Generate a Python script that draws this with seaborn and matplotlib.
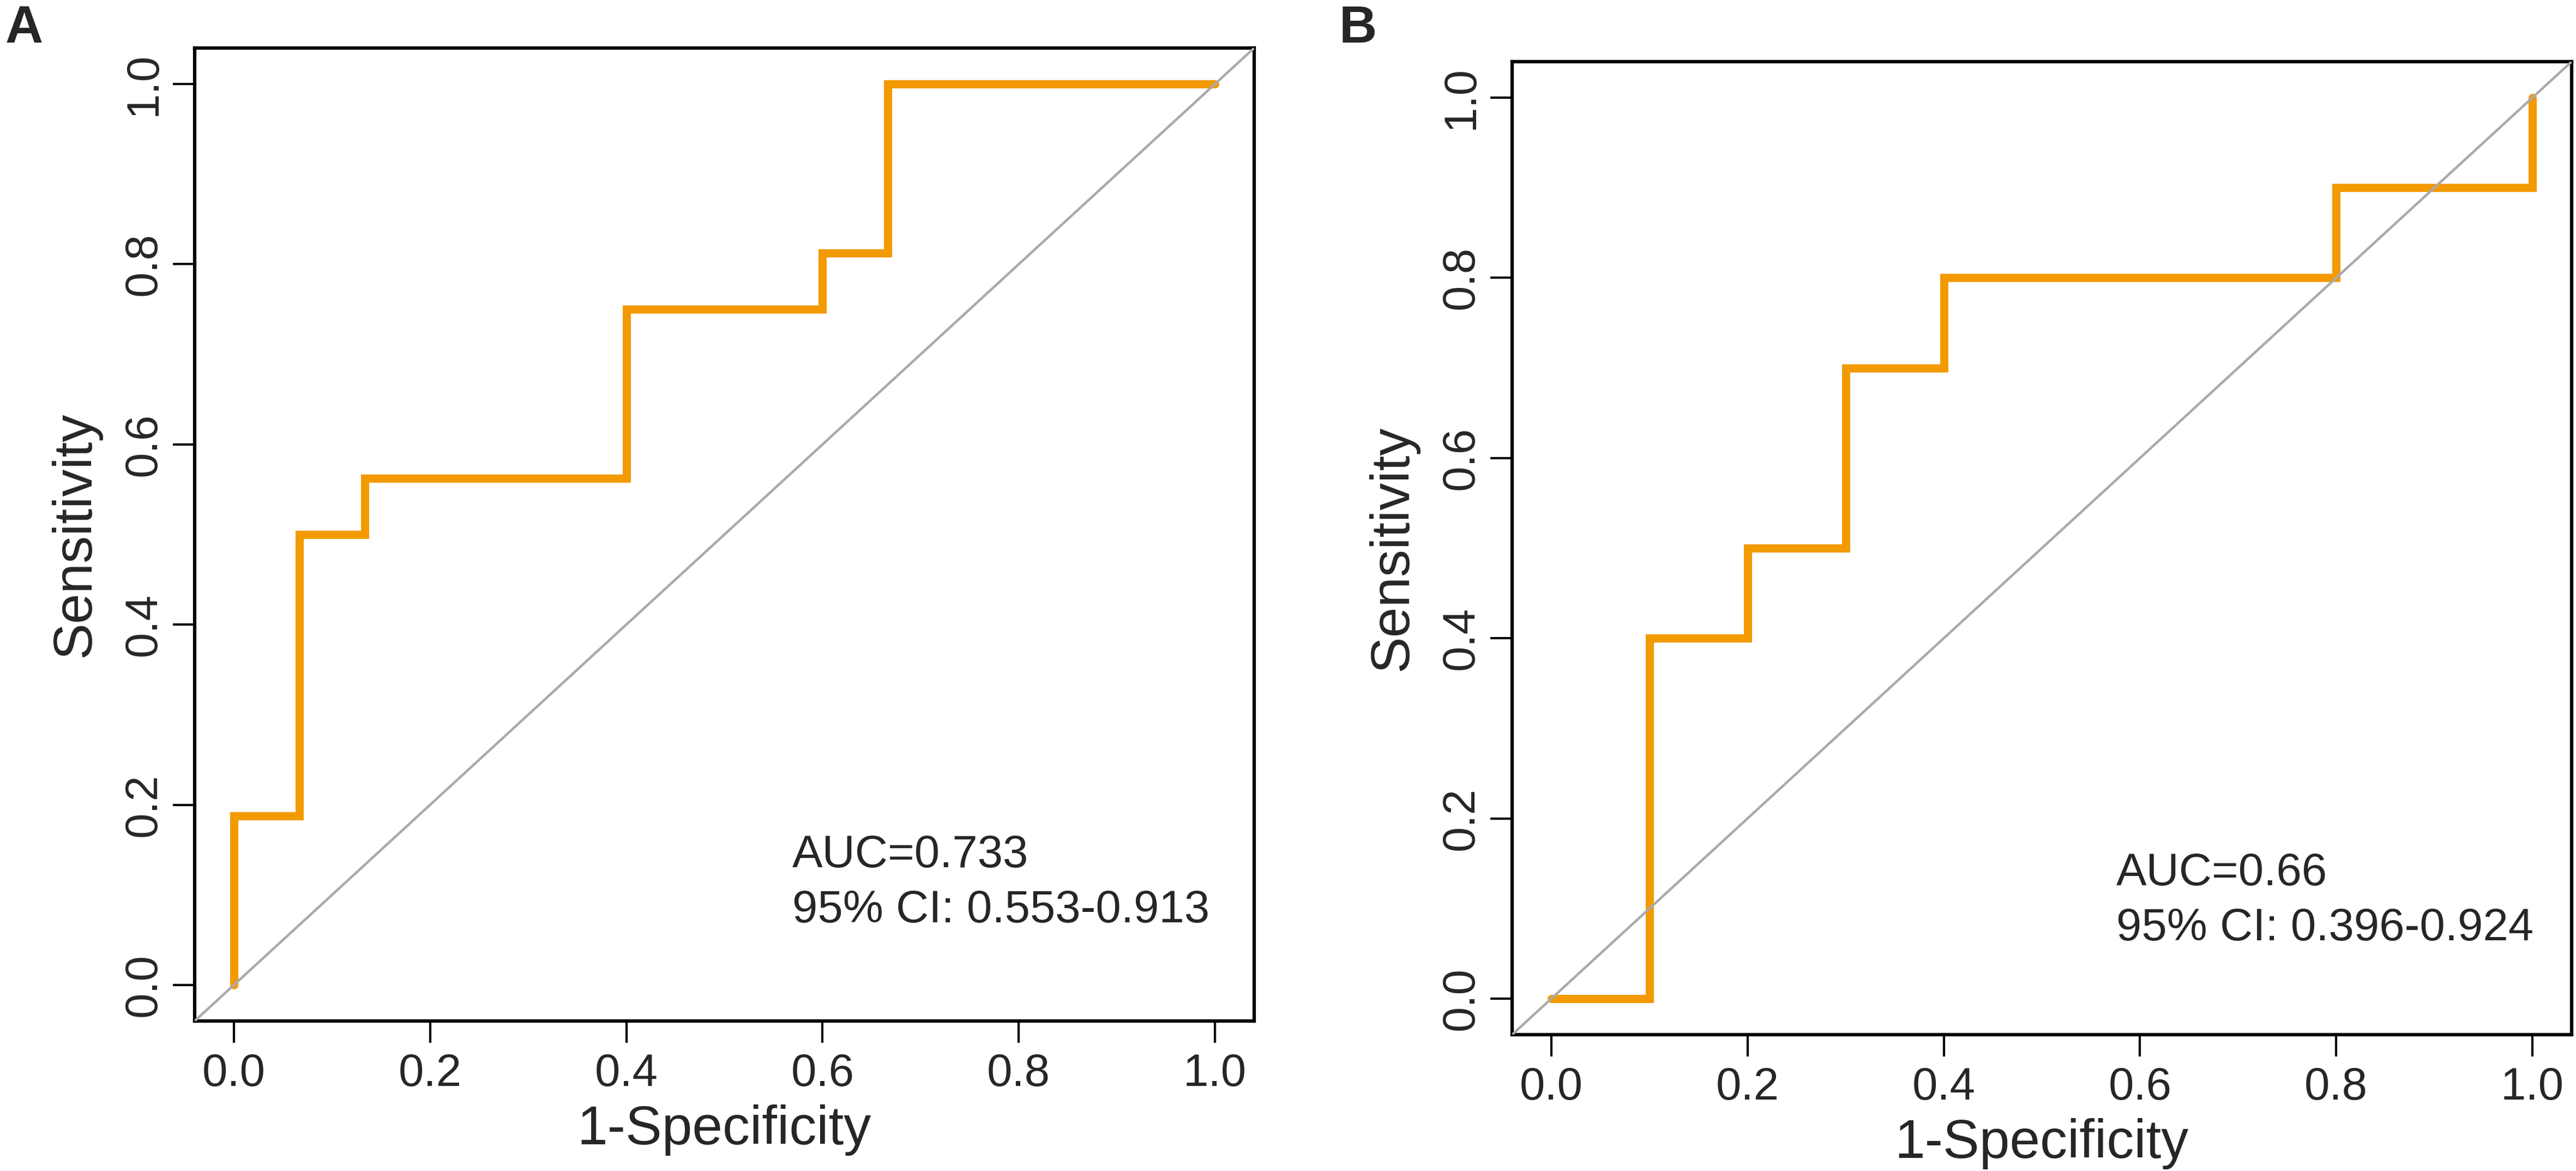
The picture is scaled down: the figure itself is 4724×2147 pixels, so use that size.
import numpy as np
import pandas as pd
import matplotlib
matplotlib.use("Agg")
import matplotlib.pyplot as plt
import seaborn as sns

# ROC step vertices (1-specificity, sensitivity), drawn with steps-post
fpr_a = [0.0, 0.0, 1/15, 2/15, 6/15, 9/15, 10/15, 1.0]
tpr_a = [0.0, 3/16, 8/16, 9/16, 12/16, 13/16, 1.0, 1.0]
auc_a = "AUC=0.733"
ci_a = "95% CI: 0.553-0.913"

fpr_b = [0.0, 0.1, 0.2, 0.3, 0.4, 0.8, 1.0]
tpr_b = [0.0, 0.4, 0.5, 0.7, 0.8, 0.9, 1.0]
auc_b = "AUC=0.66"
ci_b = "95% CI: 0.396-0.924"

ticks = [0.0, 0.2, 0.4, 0.6, 0.8, 1.0]
tick_labels = ["0.0", "0.2", "0.4", "0.6", "0.8", "1.0"]

sns.set_style("ticks")
plt.rcParams['font.family'] = ['Liberation Sans', 'DejaVu Sans']

ORANGE = "#F29A00"
GREY = "#AAAAAA"

W, H = 4724, 2147
fig = plt.figure(figsize=(W / 300, H / 300), dpi=300)
axA = fig.add_axes([357 / W, 275 / H, 1943 / W, 1784 / H])
axB = fig.add_axes([2773 / W, 250 / H, 1943 / W, 1784 / H])


def roc_panel(ax, fpr, tpr, auc_txt, ci_txt, tx, ty1, ty2):
    df = pd.DataFrame({"fpr": fpr, "tpr": tpr})
    sns.lineplot(data=df, x="fpr", y="tpr", ax=ax, estimator=None, sort=False,
                 color=ORANGE, linewidth=3.6, drawstyle="steps-post",
                 solid_capstyle="round", solid_joinstyle="miter", zorder=2)
    ax.axline((0, 0), (1, 1), color=GREY, linewidth=1.1, zorder=3)
    ax.set_xlim(-0.04, 1.04)
    ax.set_ylim(-0.04, 1.04)
    ax.set_xticks(ticks)
    ax.set_xticklabels(tick_labels)
    ax.set_yticks(ticks)
    ax.set_yticklabels(tick_labels, rotation=90, va="center")
    ax.tick_params(axis="both", length=9.5, width=1.0, labelsize=20,
                   direction="out", color="black")
    ax.tick_params(axis="x", pad=4.5)
    ax.tick_params(axis="y", pad=3.5)
    for s in ax.spines.values():
        s.set_visible(True)
        s.set_linewidth(1.5)
        s.set_color("black")
    ax.set_xlabel("1-Specificity", fontsize=24, labelpad=4)
    ax.set_ylabel("Sensitivity", fontsize=24, labelpad=9.5)
    ax.text(tx, ty1, auc_txt, fontsize=20, va="baseline", ha="left")
    ax.text(tx, ty2, ci_txt, fontsize=20, va="baseline", ha="left")


roc_panel(axA, fpr_a, tpr_a, auc_a, ci_a, 0.569, 0.131, 0.0696)
roc_panel(axB, fpr_b, tpr_b, auc_b, ci_b, 0.576, 0.126, 0.065)

fig.text(10 / W, 1 - 8 / H, "A", fontsize=23, fontweight="bold", va="top", ha="left")
fig.text(2456 / W, 1 - 8 / H, "B", fontsize=23, fontweight="bold", va="top", ha="left")

fig.savefig("out.png", dpi=300, facecolor="white")
